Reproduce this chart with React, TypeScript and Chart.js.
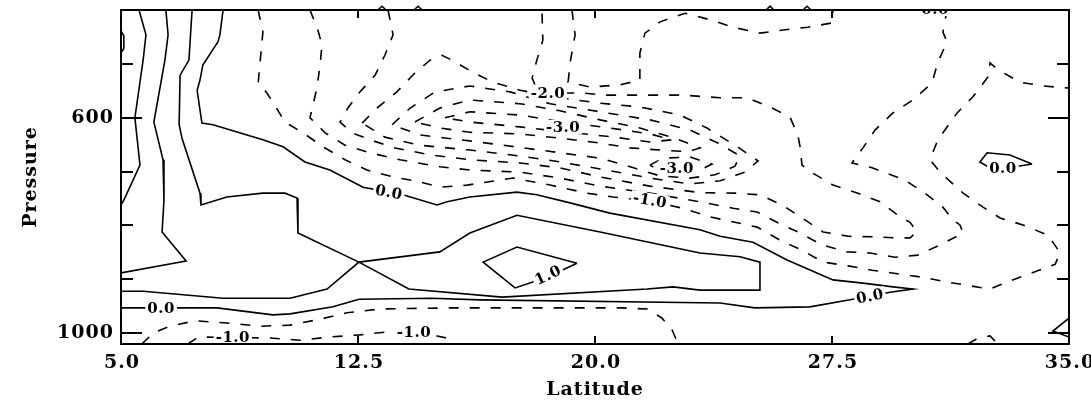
import React, { useEffect, useRef } from "react";
import { Chart, registerables } from "chart.js";

Chart.register(...registerables);

type Pt = [number, number];

// Axis ticks
const latTicks = [5, 12.5, 20, 27.5, 35];
const latTickLabels = ["5.0", "12.5", "20.0", "27.5", "35.0"];
const pressureMajorTicks = [600, 1000];
const pressureMajorLabels = ["600", "1000"];
const pressureMinorTicks = [500, 700, 800, 900];

// Solid contours (latitude, pressure)
const solidC1: Pt[] = [[5.57, 400], [5.79, 446], [5.70, 493], [5.44, 600], [5.60, 688], [5.09, 753], [5.00, 762]];
const solidC2: Pt[] = [[6.42, 400], [6.49, 446], [6.39, 493], [6.04, 608], [6.33, 678], [6.36, 753], [6.30, 812], [7.06, 866], [5.00, 888]];
const solidC3: Pt[] = [
  [7.25, 400], [7.15, 493], [6.87, 521], [6.84, 613], [6.93, 638], [7.50, 740], [7.53, 762], [8.35, 747],
  [9.49, 740], [10.19, 740], [10.57, 749], [10.60, 814], [12.53, 868], [14.11, 918], [17.06, 933],
  [21.65, 918], [22.47, 914], [23.32, 920], [25.22, 920], [25.22, 868], [24.59, 858], [23.32, 851],
  [20.16, 812], [17.53, 781], [16.04, 814], [15.09, 849], [12.53, 868], [11.52, 918], [10.35, 935],
  [8.23, 935], [5.70, 922], [5.00, 922],
];
const solidC4: Pt[] = [
  [5.00, 953], [6.93, 953], [8.04, 953], [9.81, 966], [10.35, 964], [11.71, 951], [12.53, 937],
  [14.84, 935], [16.36, 938], [23.96, 944], [25.06, 953], [26.80, 951], [28.07, 938], [29.34, 924],
  [30.06, 918], [29.43, 914], [28.48, 907], [27.53, 901], [26.08, 864], [25.00, 831], [23.96, 820],
  [23.32, 808], [20.47, 777], [19.21, 758], [18.16, 743], [17.53, 738], [16.04, 747], [15.32, 756],
  [15.00, 762], [13.92, 743], [12.66, 729], [11.61, 697], [10.82, 682], [10.13, 654], [9.49, 641],
  [7.91, 613], [7.56, 610], [7.41, 549], [7.50, 530], [7.59, 502], [8.07, 459], [8.13, 446], [8.23, 400],
];
const solidC5: Pt[] = [[19.43, 870], [17.53, 840], [16.46, 868], [17.47, 916], [18.48, 896], [19.43, 870]];
const solidC6: Pt[] = [[33.83, 686], [33.13, 669], [32.41, 665], [32.18, 682], [32.50, 693], [32.91, 693], [33.39, 690], [33.83, 686]];
const solidC7: Pt[] = [[35.00, 972], [34.49, 996], [35.00, 1007]];
const solidC8: Pt[] = [[5.00, 439], [5.09, 448], [5.09, 471], [5.00, 480]];

// small bumps above the top edge
const bump1: Pt[] = [[13.13, 400], [13.26, 393], [13.39, 400]];
const bump2: Pt[] = [[14.27, 400], [14.40, 393], [14.53, 400]];
const bump3: Pt[] = [[25.41, 400], [25.54, 393], [25.66, 400]];
const bump4: Pt[] = [[26.58, 400], [26.71, 393], [26.84, 400]];

// Dashed (negative) contours
const dashA: Pt[] = [
  [9.34, 400], [9.49, 441], [9.34, 536], [9.62, 554], [10.19, 608], [10.76, 628], [11.39, 654],
  [12.09, 678], [12.78, 697], [13.61, 710], [14.46, 719], [15.09, 729], [15.95, 725], [17.41, 712],
  [18.58, 725], [19.75, 740], [20.57, 747], [21.74, 755], [22.78, 768], [23.64, 784], [25.13, 803],
  [25.85, 827], [26.55, 846], [27.22, 868], [28.01, 875], [28.77, 883], [30.35, 896], [31.14, 905],
  [31.87, 912], [32.50, 918], [33.13, 903], [33.92, 886], [34.56, 872], [34.72, 851], [34.34, 818],
  [33.54, 799], [32.82, 786], [32.28, 766], [31.65, 740], [30.92, 701], [30.60, 678], [30.85, 641],
  [31.46, 591], [31.96, 561], [32.44, 524], [32.50, 498], [32.75, 511], [33.45, 534], [34.18, 541], [35.00, 545],
];
const dashB: Pt[] = [
  [10.98, 400], [11.23, 437], [11.36, 465], [11.30, 502], [11.20, 545], [10.98, 600], [11.46, 628],
  [12.09, 651], [12.88, 665], [13.83, 678], [15.09, 691], [16.04, 697], [17.63, 701], [18.89, 712],
  [20.16, 727], [21.74, 740], [23.32, 756], [24.37, 768], [25.13, 775], [25.79, 795], [26.49, 814],
  [27.18, 836], [27.97, 849], [28.70, 851], [29.49, 859], [30.22, 855], [30.92, 836], [31.65, 814],
  [31.55, 799], [31.33, 790], [31.01, 766], [30.44, 740], [29.81, 716], [28.77, 693], [28.13, 684],
  [28.48, 656], [28.86, 623], [29.43, 591], [30.06, 567], [30.66, 536], [30.85, 497], [31.14, 459],
  [31.01, 441], [31.14, 400],
];
const dashC: Pt[] = [
  [13.45, 400], [13.61, 446], [13.35, 484], [13.04, 521], [12.56, 552], [12.18, 582], [11.93, 608],
  [12.31, 628], [12.88, 641], [13.67, 656], [14.78, 669], [16.04, 678], [17.63, 684], [18.89, 693],
  [20.16, 710], [21.74, 727], [23.32, 739], [24.43, 740], [25.22, 743], [25.92, 762], [26.55, 786],
  [27.22, 812], [28.01, 820], [28.77, 821], [29.56, 823], [29.97, 823], [30.19, 812], [29.97, 794],
  [29.65, 784], [29.02, 756], [28.32, 740], [27.53, 725], [26.90, 703], [26.55, 688], [26.49, 654],
  [26.42, 632], [26.17, 599], [25.54, 580], [24.81, 563], [23.96, 563], [22.78, 558], [21.65, 558],
  [20.25, 558], [19.62, 554], [18.89, 554], [18.51, 554], [18.10, 539], [18.01, 526], [18.16, 493],
  [18.35, 456], [18.32, 400],
];
const dashD: Pt[] = [
  [19.27, 400], [19.37, 446], [19.21, 498], [19.15, 534], [19.84, 543], [20.79, 539], [21.42, 530],
  [21.42, 480], [21.58, 443], [22.06, 422], [22.85, 406], [23.70, 419], [24.37, 432], [25.22, 443],
  [25.95, 437], [26.74, 432], [27.50, 424], [27.53, 400],
];
const dash4: Pt[] = [
  [12.63, 610], [13.10, 582], [13.73, 552], [14.30, 517], [14.78, 493], [15.16, 484], [15.47, 493],
  [16.11, 515], [16.77, 534], [17.63, 549], [18.89, 563], [20.16, 573], [21.42, 580], [22.69, 595],
  [23.54, 619], [24.43, 651], [25.16, 680], [24.75, 701], [23.96, 717], [23.01, 723], [21.74, 712],
  [20.16, 695], [18.89, 682], [17.63, 671], [16.04, 660], [14.46, 651], [13.35, 636], [12.63, 610],
];
const dash5: Pt[] = [
  [13.58, 613], [14.15, 582], [14.94, 552], [16.04, 541], [17.31, 552], [18.58, 574], [20.16, 589],
  [21.74, 604], [23.01, 623], [23.89, 647], [24.59, 671], [24.43, 690], [23.80, 706], [23.01, 712],
  [22.06, 708], [21.11, 691], [20.16, 675], [18.26, 660], [16.04, 643], [14.46, 632], [13.58, 613],
];
const dash6: Pt[] = [
  [14.30, 608], [15.09, 582], [16.04, 567], [17.63, 574], [18.89, 587], [20.16, 604], [21.42, 619],
  [22.53, 638], [23.32, 656], [22.94, 663], [22.06, 660], [21.11, 656], [20.16, 647], [18.89, 638],
  [17.63, 630], [16.04, 627], [15.09, 619], [14.30, 608],
];
const dash7: Pt[] = [
  [15.25, 600], [16.04, 589], [17.63, 595], [18.99, 608], [20.47, 619], [21.74, 630], [22.44, 641],
  [21.74, 645], [20.47, 635], [18.99, 626], [17.63, 617], [16.04, 608], [15.25, 600],
];
const dashS: Pt[] = [[21.74, 688], [22.15, 675], [23.01, 673], [23.70, 686], [23.32, 697], [22.69, 701], [22.06, 699], [21.74, 688]];
const dashBot1: Pt[] = [
  [5.66, 1020], [6.01, 1000], [6.55, 987], [7.34, 977], [8.35, 981], [9.40, 987], [10.35, 985],
  [11.30, 974], [12.15, 962], [13.20, 955], [15.41, 953], [18.58, 953], [20.79, 953], [21.65, 955],
  [22.12, 972], [22.44, 994], [22.63, 1020],
];
const dashBot2: Pt[] = [
  [7.12, 1020], [7.44, 1007], [9.72, 1009], [10.66, 1013], [11.61, 1007], [12.56, 1003], [13.35, 998],
  [13.83, 992], [14.21, 996], [15.00, 1005], [15.32, 1009], [15.47, 1020],
];
const dashBotR: Pt[] = [[31.80, 1020], [32.12, 1009], [32.50, 1005], [32.75, 1020]];

// Contour labels: latitude, pressure, text, rotation (deg)
const contourLabels: [number, number, string, number][] = [
  [6.27, 953, "0.0", 0],
  [13.48, 738, "0.0", 11],
  [28.7, 931, "0.0", -11],
  [32.91, 693, "0.0", 0],
  [18.51, 892, "1.0", -25],
  [8.54, 1007, "-1.0", 0],
  [14.27, 998, "-1.0", 0],
  [21.74, 753, "-1.0", 10],
  [18.51, 554, "-2.0", 0],
  [18.99, 617, "-3.0", 0],
  [22.59, 693, "-3.0", 0],
  [30.76, 398, "0.0", 0],
];

const solidLines = [solidC1, solidC2, solidC3, solidC4, solidC5, solidC6, solidC7, solidC8];
const bumpLines = [bump1, bump2, bump3, bump4];
const dashedLines = [dashA, dashB, dashC, dashD, dash4, dash5, dash6, dash7, dashS, dashBot1, dashBot2, dashBotR];

const toXY = (pts: Pt[]) => pts.map(([x, y]) => ({ x, y }));

const AXIS_FONT = "bold 19px 'DejaVu Serif'";
const LABEL_FONT = "bold 15px 'DejaVu Serif'";

const decorPlugin = {
  id: "decor",
  afterDatasetsDraw(chart: any) {
    const { ctx, chartArea: a, scales } = chart;
    const xs = scales.x;
    const ys = scales.y;
    ctx.save();
    ctx.beginPath();
    ctx.rect(a.left, a.top, a.right - a.left, a.bottom - a.top);
    ctx.clip();
    ctx.font = LABEL_FONT;
    (ctx as any).letterSpacing = "0.5px";
    ctx.textAlign = "center";
    ctx.textBaseline = "middle";
    for (const [lat, p, text, rot] of contourLabels) {
      const x = xs.getPixelForValue(lat);
      const y = ys.getPixelForValue(p);
      ctx.save();
      ctx.translate(x, y);
      ctx.rotate((rot * Math.PI) / 180);
      const w = ctx.measureText(text).width;
      ctx.fillStyle = "#ffffff";
      ctx.fillRect(-w / 2 - 2, -7, w + 4, 14);
      ctx.fillStyle = "#000000";
      ctx.fillText(text, 0, 1);
      ctx.restore();
    }
    ctx.restore();
  },
  afterDraw(chart: any) {
    const { ctx, chartArea: a, scales } = chart;
    const xs = scales.x;
    const ys = scales.y;
    ctx.save();
    ctx.strokeStyle = "#000";
    ctx.lineWidth = 2;
    ctx.strokeRect(a.left, a.top, a.right - a.left, a.bottom - a.top);
    ctx.beginPath();
    for (const v of latTicks) {
      const x = Math.round(xs.getPixelForValue(v));
      ctx.moveTo(x, a.bottom);
      ctx.lineTo(x, a.bottom - 8);
      ctx.moveTo(x, a.top);
      ctx.lineTo(x, a.top + 8);
    }
    for (const v of pressureMajorTicks) {
      const y = Math.round(ys.getPixelForValue(v));
      ctx.moveTo(a.left, y);
      ctx.lineTo(a.left + 21, y);
      ctx.moveTo(a.right, y);
      ctx.lineTo(a.right - 21, y);
    }
    for (const v of pressureMinorTicks) {
      const y = Math.round(ys.getPixelForValue(v));
      ctx.moveTo(a.left, y);
      ctx.lineTo(a.left + 12, y);
      ctx.moveTo(a.right, y);
      ctx.lineTo(a.right - 12, y);
    }
    ctx.stroke();

    ctx.fillStyle = "#000";
    ctx.font = AXIS_FONT;
    (ctx as any).letterSpacing = "1px";
    ctx.textBaseline = "middle";
    ctx.textAlign = "center";
    latTicks.forEach((v, i) => {
      ctx.fillText(latTickLabels[i], xs.getPixelForValue(v) + 1, a.bottom + 19);
    });
    ctx.textAlign = "right";
    pressureMajorTicks.forEach((v, i) => {
      ctx.fillText(pressureMajorLabels[i], a.left - 7, ys.getPixelForValue(v));
    });
    ctx.textAlign = "center";
    ctx.fillText("Latitude", (a.left + a.right) / 2, a.bottom + 46);
    ctx.save();
    ctx.translate(31, (a.top + a.bottom) / 2);
    ctx.rotate(-Math.PI / 2);
    ctx.fillText("Pressure", 0, 0);
    ctx.restore();
    ctx.restore();
  },
};

export default function App() {
  const ref = useRef<HTMLCanvasElement | null>(null);
  useEffect(() => {
    if (!ref.current) return;
    const base = { showLine: true, pointRadius: 0, borderColor: "#000", borderWidth: 1.6, tension: 0, fill: false };
    const datasets: any[] = [
      ...solidLines.map((pts) => ({ ...base, data: toXY(pts) })),
      ...bumpLines.map((pts) => ({ ...base, data: toXY(pts), clip: false })),
      ...dashedLines.map((pts) => ({ ...base, data: toXY(pts), borderDash: [10, 11] })),
    ];
    const chart = new Chart(ref.current, {
      type: "scatter",
      data: { datasets },
      options: {
        animation: false,
        responsive: false,
        events: [],
        layout: { padding: { left: 121, top: 10, right: 22, bottom: 57 } },
        plugins: { legend: { display: false }, tooltip: { enabled: false } },
        scales: {
          x: { type: "linear", min: 5, max: 35, display: false },
          y: { type: "linear", min: 400, max: 1020, reverse: true, display: false },
        },
      },
      plugins: [decorPlugin],
    });
    return () => chart.destroy();
  }, []);
  return (
    <div style={{ position: "absolute", left: 0, top: 0, width: 1091, height: 401, background: "#fff" }}>
      <canvas ref={ref} width={1091} height={401} style={{ display: "block", width: 1091, height: 401 }} />
    </div>
  );
}
